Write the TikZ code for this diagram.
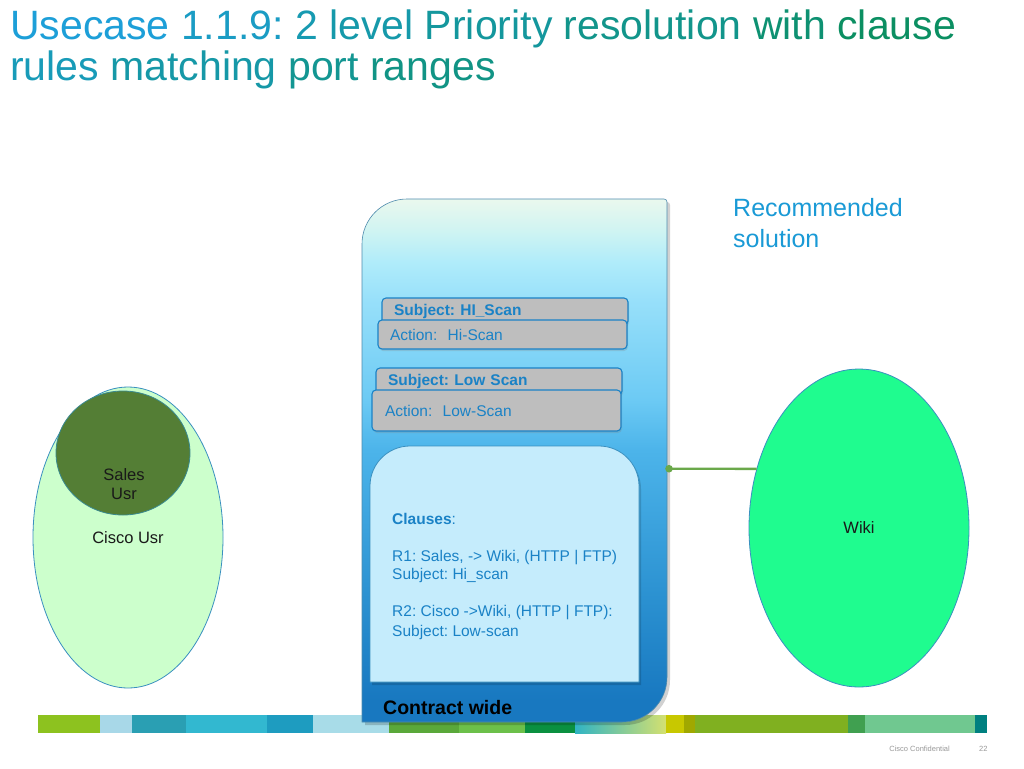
\documentclass[tikz,border=0pt]{standalone}
\usepackage{fontspec}
\setmainfont{Liberation Sans}
\usetikzlibrary{shapes.geometric,shadows}
\definecolor{tA}{HTML}{1D9FD8}
\definecolor{tB}{HTML}{0A8E58}
\definecolor{recblue}{HTML}{1A9AD6}
\definecolor{boxblue}{HTML}{1A82C6}
\definecolor{boxgray}{HTML}{BEBEBE}
\definecolor{clausefill}{HTML}{C5ECFC}
\definecolor{ciscofill}{HTML}{CCFFCC}
\definecolor{salesfill}{HTML}{547E35}
\definecolor{salesedge}{HTML}{3A8A90}
\definecolor{wikifill}{HTML}{1FFC8F}
\definecolor{edgeblue}{HTML}{3A90C0}
\definecolor{conngreen}{HTML}{6AA84A}
\definecolor{c0}{HTML}{1878C0}
\definecolor{c1}{HTML}{2A90D0}
\definecolor{c2}{HTML}{4CB4EA}
\definecolor{c3}{HTML}{6CCAF4}
\definecolor{c4}{HTML}{98E0FA}
\definecolor{c5}{HTML}{B0ECFA}
\definecolor{c6}{HTML}{D0F4F2}
\definecolor{c7}{HTML}{EAF8EE}
\definecolor{s1}{HTML}{8DC21F}
\definecolor{s2}{HTML}{A8D8E8}
\definecolor{s3}{HTML}{2A9FB3}
\definecolor{s4}{HTML}{32B8D0}
\definecolor{s5}{HTML}{1E9CC0}
\definecolor{s6}{HTML}{A8DCE8}
\definecolor{s7}{HTML}{5AA83A}
\definecolor{s8}{HTML}{6CC04A}
\definecolor{s9}{HTML}{0A9040}
\definecolor{s10a}{HTML}{30B4C4}
\definecolor{s10b}{HTML}{D4E070}
\definecolor{s11}{HTML}{C8C800}
\definecolor{s12}{HTML}{A0A800}
\definecolor{s13}{HTML}{80B020}
\definecolor{s14}{HTML}{40A050}
\definecolor{s15}{HTML}{70C890}
\definecolor{s16}{HTML}{008080}
\pgfdeclareverticalshading{contshade}{100bp}{color(0bp)=(c0); color(25bp)=(c0); color(27bp)=(c0); color(36.5bp)=(c1); color(51bp)=(c2); color(55.8bp)=(c3); color(65.4bp)=(c4); color(69bp)=(c5); color(72bp)=(c6); color(75bp)=(c7); color(100bp)=(c7)}
\newcommand{\fs}[2]{\fontsize{#1}{#2}\selectfont}
\begin{document}
\frenchspacing
\begin{tikzpicture}[x=1pt,y=-1pt,
  titletext/.style={anchor=base west,inner sep=0pt,font=\fs{41}{41}},
  graybox/.style={draw=boxblue,line width=1.1pt,fill=boxgray,rounded corners=4pt,
     minimum height=#1,inner xsep=12pt,inner ysep=0pt,align=left,text=boxblue,
     drop shadow={shadow xshift=1pt,shadow yshift=-2pt,opacity=0.25}},
  graybox/.default=27pt,
  cltext/.style={anchor=base west,inner sep=0pt,text=boxblue,font=\fs{15.5}{18}},
  lbl/.style={text=black!90,font=\fs{16.5}{19},align=center},
  conn/.style={draw=conngreen,line width=2.4pt}
]
\useasboundingbox[fill=white] (0,0) rectangle (1024,768);

% title
\node[titletext] (t1) at (10,40) {\frenchspacing\color{tA}Usecase \color{tB!16!tA}1.1.9: \color{tB!30!tA}2 \color{tB!36!tA}level \color{tB!46!tA}Priority \color{tB!60!tA}resolution \color{tB!80!tA}with \color{tB!92!tA}clause};
\node[titletext] (t2) at (10,81) {\color{tB!25!tA}rules \color{tB!38!tA}matching \color{tB!55!tA}port \color{tB!65!tA}ranges};

% recommended
\node[anchor=base west,inner sep=0pt,text=recblue,font=\fs{25}{31},align=left] (rec) at (733,247) {Recommended\\solution};

% bottom strip
\fill[s1] (38,715) rectangle (100,733);
\fill[s2] (100,715) rectangle (132,733);
\fill[s3] (132,715) rectangle (186,733);
\fill[s4] (186,715) rectangle (267,733);
\fill[s5] (267,715) rectangle (313,733);
\fill[s6] (313,715) rectangle (389,733);
\fill[s7] (389,715) rectangle (459,733);
\fill[s8] (459,715) rectangle (525,733);
\fill[s9] (525,715) rectangle (575,733);
\shade[left color=s10a,right color=s10b] (575,715) rectangle (666,733);
\fill[s11] (666,715) rectangle (684,733);
\fill[s12] (684,715) rectangle (695,733);
\fill[s13] (695,715) rectangle (848,733);
\fill[s14] (848,715) rectangle (865,733);
\fill[s15] (865,715) rectangle (975,733);
\fill[s16] (975,715) rectangle (987,733);

% footer
\node[anchor=base east,inner sep=0pt,text=black!40,font=\fs{7.5}{9}] (conf) at (950,751) {Cisco Confidential};
\node[anchor=base west,inner sep=0pt,text=black!40,font=\fs{7.5}{9}] (pg) at (979,751) {22};

% container shadow
\fill[black,opacity=0.18] (365,725) -- (365,247) .. controls (365,222.1) and (385.1,202) .. (410,202) -- (667,202) .. controls (668.7,202) and (670,203.3) .. (670,205) -- (670,680) .. controls (670,704.9) and (649.9,725) .. (625,725) -- cycle;
% container
\shade[shading=contshade,draw=edgeblue!70!gray,line width=0.6pt] (362,722) -- (362,244) .. controls (362,219.1) and (382.1,199) .. (407,199) -- (664,199) .. controls (665.7,199) and (667,200.3) .. (667,202) -- (667,677) .. controls (667,701.9) and (646.9,722) .. (622,722) -- cycle;

% gray boxes
\node[graybox,text width=222pt,font=\bfseries\fs{15.5}{18}] (subj1) at (505,311.5) {Subject: HI\_Scan};
\node[graybox,minimum height=29pt,text width=225pt,font=\fs{15.5}{18}] (act1) at (502.5,334.5) {Action:\ \ Hi-Scan};
\node[graybox,text width=222pt,font=\bfseries\fs{15.5}{18}] (subj2) at (499,381.5) {Subject: Low Scan};
\node[graybox,minimum height=41pt,text width=223pt,inner xsep=13pt,font=\fs{15.5}{18}] (act2) at (496.5,410.5) {Action:\ \ Low-Scan};

% clauses box
\fill[black,opacity=0.15] (372,685) -- (372,489) .. controls (372,466.9) and (389.9,449) .. (412,449) -- (601,449) .. controls (623.1,449) and (641,466.9) .. (641,489) -- (641,685) -- cycle;
\draw[fill=clausefill,draw=edgeblue,line width=0.8pt] (370,682) -- (370,486) .. controls (370,463.9) and (387.9,446) .. (410,446) -- (599,446) .. controls (621.1,446) and (639,463.9) .. (639,486) -- (639,682) -- cycle;
\node[cltext] (cl0) at (392,524) {\textbf{Clauses}:};
\node[cltext] (cl1) at (392,561) {R1: Sales, -> Wiki, (HTTP | FTP)};
\node[cltext] (cl2) at (392,579) {Subject: Hi\_scan};
\node[cltext] (cl3) at (392,616) {R2: Cisco ->Wiki, (HTTP | FTP):};
\node[cltext] (cl4) at (392,636) {Subject: Low-scan};

\node[anchor=west,inner sep=0pt,font=\bfseries\fs{19.5}{22},text=black] (cw) at (383,708) {Contract wide};

% users
\node[ellipse,draw=edgeblue,line width=0.8pt,fill=ciscofill,minimum width=190pt,minimum height=301pt,inner sep=0pt,lbl] (cisco) at (128,537.5) {Cisco Usr};
\node[ellipse,draw=salesedge,line width=0.8pt,fill=salesfill,minimum width=134pt,minimum height=124pt,inner sep=0pt] (sales) at (123,453) {};
\node[lbl,inner sep=0pt] (salestxt) at (124,484.5) {Sales\\Usr};

% wiki
\node[ellipse,draw=edgeblue,line width=0.8pt,fill=wikifill,minimum width=220pt,minimum height=318pt,inner sep=0pt,lbl] (wiki) at (859,528) {Wiki};

% connector
\coordinate (dotp) at (669,468.7);
\draw[conn] (dotp) -- (wiki.150);
\fill[conngreen] (dotp) circle (3.8pt);
\end{tikzpicture}
\end{document}
